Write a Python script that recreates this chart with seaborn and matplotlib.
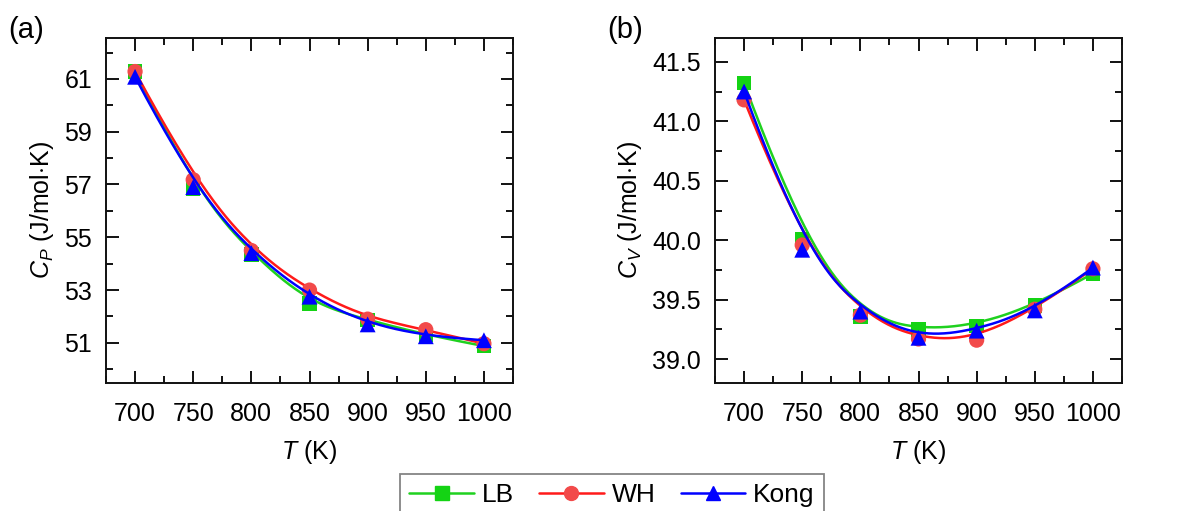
import numpy as np
import pandas as pd
import matplotlib
matplotlib.use("Agg")
import matplotlib.pyplot as plt
from matplotlib.lines import Line2D
from matplotlib.ticker import MultipleLocator, FormatStrFormatter
import seaborn as sns

sns.set_theme(style="white")
plt.rcParams['font.family'] = ['Liberation Sans', 'DejaVu Sans']
plt.rcParams['mathtext.fontset'] = 'custom'
plt.rcParams['mathtext.rm'] = 'Liberation Sans'
plt.rcParams['mathtext.it'] = 'Liberation Sans:italic'
for k in ['text.color', 'axes.labelcolor', 'xtick.color', 'ytick.color', 'axes.edgecolor']:
    plt.rcParams[k] = 'black'

T = [700, 750, 800, 850, 900, 950, 1000]
series = ["LB", "WH", "Kong"]

cp_LB = [61.28, 56.85, 54.35, 52.50, 51.87, 51.30, 50.88]
cp_WH = [61.28, 57.18, 54.50, 53.00, 51.90, 51.50, 50.97]
cp_Kong = [61.08, 56.90, 54.40, 52.75, 51.70, 51.25, 51.10]

cv_LB = [41.32, 40.01, 39.36, 39.25, 39.28, 39.45, 39.72]
cv_WH = [41.18, 39.96, 39.37, 39.17, 39.16, 39.42, 39.76]
cv_Kong = [41.25, 39.92, 39.40, 39.18, 39.24, 39.41, 39.77]

colors = {"LB": "#1fd11f", "WH": "#ff1a1a", "Kong": "#0000ff"}
mfc = {"LB": "#14d314", "WH": "#f24a4a", "Kong": "#0000ff"}
markers = {"LB": "s", "WH": "o", "Kong": "^"}
msize = {"LB": 110, "WH": 120, "Kong": 130}


def bspline(xs, ys, npts=300, k=3):
    """Clamped uniform cubic B-spline using data points as control points."""
    P = np.column_stack([xs, ys]).astype(float)
    n = len(P)
    inner = np.arange(1, n - k)
    knots = np.concatenate([np.zeros(k + 1), inner, np.full(k + 1, n - k)])
    u = np.linspace(0, n - k, npts)
    u[-1] -= 1e-9

    def N(i, p, t):
        if p == 0:
            return np.where((knots[i] <= t) & (t < knots[i + 1]), 1.0, 0.0)
        a = 0.0
        d1 = knots[i + p] - knots[i]
        if d1 > 0:
            a = (t - knots[i]) / d1 * N(i, p - 1, t)
        b = 0.0
        d2 = knots[i + p + 1] - knots[i + 1]
        if d2 > 0:
            b = (knots[i + p + 1] - t) / d2 * N(i + 1, p - 1, t)
        return a + b

    B = np.array([N(i, k, u) for i in range(n)])
    C = B.T @ P
    return C[:, 0], C[:, 1]


fig = plt.figure(figsize=(12.02, 5.11), dpi=100)
ax1 = fig.add_axes([106/1202, 1-383/511, (513-106)/1202, (383-38)/511])
ax2 = fig.add_axes([715/1202, 1-383/511, (1122-715)/1202, (383-38)/511])


def draw(ax, data):
    for j, name in enumerate(series):
        vals = data[name]
        df = pd.DataFrame({"T": T, "val": vals})
        cx, cy = bspline(T, vals)
        dff = pd.DataFrame({"T": cx, "val": cy})
        sns.lineplot(data=dff, x="T", y="val", ax=ax, color=colors[name],
                     lw=1.8, legend=False, zorder=3 + 2*j, sort=False)
        sns.scatterplot(data=df, x="T", y="val", ax=ax, marker=markers[name],
                        s=msize[name], color=mfc[name], edgecolor="none",
                        legend=False, zorder=4 + 2*j)


draw(ax1, {"LB": cp_LB, "WH": cp_WH, "Kong": cp_Kong})
draw(ax2, {"LB": cv_LB, "WH": cv_WH, "Kong": cv_Kong})

for ax in (ax1, ax2):
    ax.set_xlim(675, 1025)
    ax.xaxis.set_major_locator(MultipleLocator(50))
    ax.xaxis.set_minor_locator(MultipleLocator(25))
    ax.tick_params(which='both', direction='in', top=True, right=True,
                   bottom=True, left=True, labelsize=18, width=1.4, color='#111111')
    ax.tick_params(which='major', length=9)
    ax.tick_params(which='minor', length=5)
    ax.tick_params(axis='x', which='major', pad=14)
    ax.tick_params(axis='y', which='major', pad=10)
    for s in ax.spines.values():
        s.set_color('#111111')
        s.set_linewidth(1.4)
    ax.set_xlabel(r"$T$ (K)", fontsize=18, labelpad=8)
    ax.set_facecolor('white')

ax1.set_ylim(49.48, 62.55)
ax1.set_yticks([51, 53, 55, 57, 59, 61])
ax1.yaxis.set_minor_locator(MultipleLocator(1))
ax1.yaxis.set_major_formatter(FormatStrFormatter('%d'))
ax1.set_ylabel(r"$C_P$ (J/mol$\cdot$K)", fontsize=18, labelpad=6)

ax2.set_ylim(38.8, 41.7)
ax2.yaxis.set_major_locator(MultipleLocator(0.5))
ax2.yaxis.set_minor_locator(MultipleLocator(0.25))
ax2.yaxis.set_major_formatter(FormatStrFormatter('%.1f'))
ax2.set_ylabel(r"$C_V$ (J/mol$\cdot$K)", fontsize=18, labelpad=6)

fig.text(8/1202, 1-30/511, "(a)", fontsize=21, va='center', ha='left')
fig.text(607/1202, 1-30/511, "(b)", fontsize=21, va='center', ha='left')

handles = [Line2D([0], [0], color=colors[n], lw=1.8, marker=markers[n],
                  markersize=10, markerfacecolor=mfc[n], markeredgecolor=mfc[n])
           for n in series]
leg = fig.legend(handles, series, loc='upper center', ncol=3,
                 bbox_to_anchor=(612/1202, 1-474/511), fontsize=19,
                 frameon=True, fancybox=False, edgecolor='#666666',
                 handlelength=2.45, columnspacing=0.95, handletextpad=0.3,
                 borderpad=0.35, borderaxespad=0, numpoints=1)
leg.get_frame().set_linewidth(1.3)

fig.savefig("out.png", dpi=100, facecolor='white')
